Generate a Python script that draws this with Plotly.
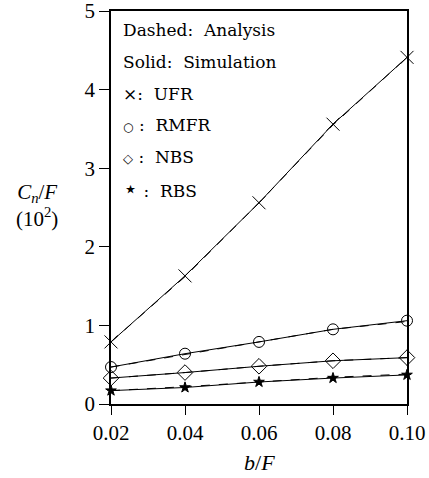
import plotly.graph_objects as go

b_over_F = [0.02, 0.04, 0.06, 0.08, 0.10]

# Simulation (solid)
ufr_sim = [0.79, 1.63, 2.56, 3.56, 4.41]
rmfr_sim = [0.47, 0.64, 0.79, 0.95, 1.06]
nbs_sim = [0.33, 0.40, 0.48, 0.55, 0.59]
rbs_sim = [0.17, 0.21, 0.28, 0.33, 0.37]

# Analysis (dashed)
ufr_ana = [0.79, 1.62, 2.56, 3.55, 4.41]
rmfr_ana = [0.47, 0.63, 0.79, 0.95, 1.05]
nbs_ana = [0.33, 0.40, 0.48, 0.55, 0.59]
rbs_ana = [0.17, 0.22, 0.28, 0.34, 0.38]

x_ticks = [0.02, 0.04, 0.06, 0.08, 0.10]
x_ticklabels = ["0.02", "0.04", "0.06", "0.08", "0.10"]
y_ticks = [0, 1, 2, 3, 4, 5]

legend_symbols = ["", "", "×", "○", "◇", "⋆"]
legend_labels = ["Dashed:  Analysis", "Solid:  Simulation", ":  UFR", " :  RMFR", " :  NBS", " :  RBS"]
legend_symbol_sizes = [17, 17, 17, 12, 13, 24]

SERIF = "DejaVu Serif, Liberation Serif, serif"
TICKSERIF = "Liberation Serif, DejaVu Serif, serif"

fig = go.Figure()

series = [
    (ufr_sim, ufr_ana, "x-thin-open", 13),
    (rmfr_sim, rmfr_ana, "circle-open", 11),
    (nbs_sim, nbs_ana, "diamond-open", 12),
    (rbs_sim, rbs_ana, "star", 8),
]
for sim, ana, sym, size in series:
    fig.add_trace(go.Scatter(x=b_over_F, y=ana, mode="lines",
                             line=dict(color="black", width=1, dash="dash"),
                             showlegend=False, hoverinfo="skip"))
    fig.add_trace(go.Scatter(x=b_over_F, y=sim, mode="lines+markers",
                             line=dict(color="black", width=1),
                             marker=dict(symbol=sym, size=size, color="black",
                                         line=dict(color="black", width=1)),
                             showlegend=False, cliponaxis=False))

for i, (sym, lab, ss) in enumerate(zip(legend_symbols, legend_labels, legend_symbol_sizes)):
    txt = (f'<span style="font-size:{ss}px">{sym}</span>' if sym else "") + lab
    fig.add_annotation(x=0.035, y=0.952 - i * 0.081, xref="paper", yref="paper",
                       text=txt, showarrow=False, xanchor="left", yanchor="middle",
                       font=dict(family=SERIF, size=17, color="black"))

fig.add_annotation(x=-0.25, y=0.504, xref="paper", yref="paper",
                   text="<i>C<sub>n</sub></i>/<i>F</i><br>(10<sup>2</sup>)",
                   showarrow=False, xanchor="center", yanchor="middle", align="center",
                   font=dict(family=TICKSERIF, size=21, color="black"))

fig.add_annotation(x=0.5, y=-0.150, xref="paper", yref="paper",
                   text="<i>b</i>/<i>F</i>", showarrow=False,
                   xanchor="center", yanchor="middle",
                   font=dict(family=TICKSERIF, size=22, color="black"))

fig.update_layout(
    width=429, height=478,
    margin=dict(l=111, r=22, t=11, b=74),
    paper_bgcolor="white", plot_bgcolor="white",
    font=dict(family=TICKSERIF, color="black", size=20),
    xaxis=dict(range=[0.02, 0.10], tickvals=x_ticks, ticktext=x_ticklabels,
               automargin=False, ticklabeloverflow="allow",
               showgrid=False, zeroline=False, showline=True, linecolor="black",
               linewidth=1.5, mirror=True, ticks="outside", ticklen=9, tickwidth=1,
               tickcolor="black", tickfont=dict(family=TICKSERIF, size=21)),
    yaxis=dict(range=[0, 5], tickvals=y_ticks, automargin=False,
               ticklabeloverflow="allow",
               showgrid=False, zeroline=False, showline=True, linecolor="black",
               linewidth=1.5, mirror=True, ticks="outside", ticklen=10, tickwidth=1,
               tickcolor="black", tickfont=dict(family=TICKSERIF, size=21)),
)

fig.write_html("out.html", post_script="document.body.style.margin='0';",
               config={"displayModeBar": False})
